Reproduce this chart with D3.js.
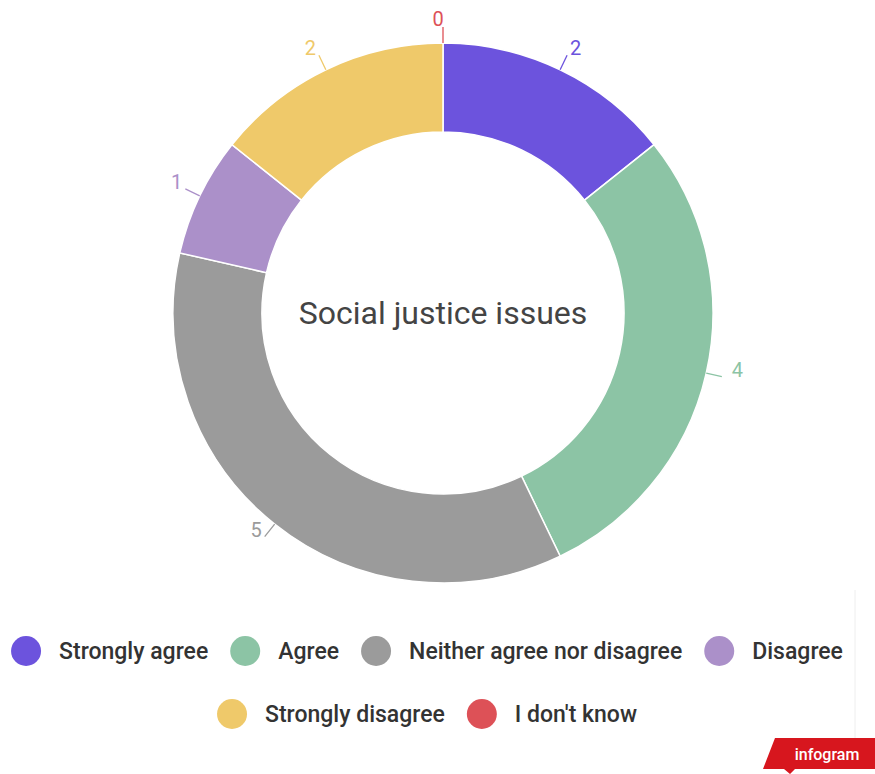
<!DOCTYPE html>
<html>
<head>
<meta charset="utf-8">
<script src="https://cdn.jsdelivr.net/npm/d3@7"></script>
<style>
  html, body { margin: 0; padding: 0; background: #ffffff; }
  svg { display: block; font-family: Roboto, "Noto Sans", sans-serif; }
</style>
</head>
<body>
<svg id="chart" width="875" height="774"></svg>
<script>
// Survey answers for the "Social justice issues" question
const categories = ["Strongly agree", "Agree", "Neither agree nor disagree", "Disagree", "Strongly disagree", "I don't know"];
const counts = [2, 4, 5, 1, 2, 0];
const colors = ["#6c53dd", "#8cc4a5", "#9b9b9b", "#ab90c9", "#efc96a", "#dd5157"];
const title = "Social justice issues";

const svg = d3.select("#chart");
const cx = 443, cy = 313;
const rOuter = 270, rInner = 181;

const data = categories.map((c, i) => ({ category: c, value: counts[i], color: colors[i] }));

const pie = d3.pie().sort(null).value(d => d.value);
const arcs = pie(data);
const arc = d3.arc().innerRadius(rInner).outerRadius(rOuter);

const g = svg.append("g").attr("transform", `translate(${cx},${cy})`);

// Donut slices
g.selectAll("path.slice")
  .data(arcs.filter(a => a.data.value > 0))
  .join("path")
  .attr("class", "slice")
  .attr("d", arc)
  .attr("fill", d => d.data.color)
  .attr("stroke", "#ffffff")
  .attr("stroke-width", 1.5);

// Value labels: a short radial leader, text sitting on the leader's end
const polar = (ang, r) => [Math.sin(ang) * r, -Math.cos(ang) * r];
const labelG = g.append("g");
arcs.forEach(a => {
  const mid = (a.startAngle + a.endAngle) / 2;
  const p0 = polar(mid, rOuter);
  const p1 = polar(mid, rOuter + 16);
  labelG.append("line")
    .attr("x1", p0[0]).attr("y1", p0[1])
    .attr("x2", p1[0]).attr("y2", p1[1])
    .attr("stroke", a.data.color)
    .attr("stroke-width", 1.3);
  const side = Math.abs(p1[0]) < 4 ? 0 : Math.sign(p1[0]);
  const gap = side > 0 && Math.abs(p1[1]) < 120 ? 10 : 3;
  labelG.append("text")
    .attr("x", p1[0] + side * gap - (side === 0 ? 5 : 0))
    .attr("y", p1[1] + (side === 0 ? -1 : 0))
    .attr("text-anchor", side > 0 ? "start" : side < 0 ? "end" : "middle")
    .attr("font-size", 20)
    .attr("fill", a.data.color)
    .text(a.data.value);
});

// Center title
g.append("text")
  .attr("x", 0).attr("y", 0)
  .attr("text-anchor", "middle")
  .attr("dominant-baseline", "central")
  .attr("font-size", 32)
  .attr("fill", "#444444")
  .text(title);

// Legend: two centered rows of swatch + label
const legendRows = [[0, 1, 2, 3], [4, 5]];
const rowY = [651, 714];
const swR = 15, gapText = 18, gapItem = 22;
const legendCenter = 427;
const lg = svg.append("g");
legendRows.forEach((row, ri) => {
  const items = row.map(i => {
    const t = lg.append("text")
      .attr("font-size", 23)
      .attr("font-weight", 500)
      .attr("fill", "#333333")
      .attr("dominant-baseline", "central")
      .text(categories[i]);
    return { i, t, w: t.node().getComputedTextLength() };
  });
  const total = d3.sum(items, d => 2 * swR + gapText + d.w) + gapItem * (items.length - 1);
  let x = legendCenter - total / 2;
  items.forEach(d => {
    lg.append("circle")
      .attr("cx", x + swR).attr("cy", rowY[ri])
      .attr("r", swR)
      .attr("fill", colors[d.i]);
    d.t.attr("x", x + 2 * swR + gapText).attr("y", rowY[ri]);
    x += 2 * swR + gapText + d.w + gapItem;
  });
});

// Thin frame line on the right edge
svg.append("line")
  .attr("x1", 855).attr("y1", 590).attr("x2", 855).attr("y2", 738)
  .attr("stroke", "#eeeeee").attr("stroke-width", 1);

// Branding tag in the bottom-right corner
const badge = svg.append("g");
badge.append("path")
  .attr("d", "M775,738 L875,738 L875,769 L795,769 L790,774 L784,769 L763,769 Z")
  .attr("fill", "#d7161e");
badge.append("text")
  .attr("x", 827).attr("y", 754)
  .attr("text-anchor", "middle")
  .attr("dominant-baseline", "central")
  .attr("font-size", 16)
  .attr("font-weight", 500)
  .attr("fill", "#ffffff")
  .text("infogram");
</script>
</body>
</html>
